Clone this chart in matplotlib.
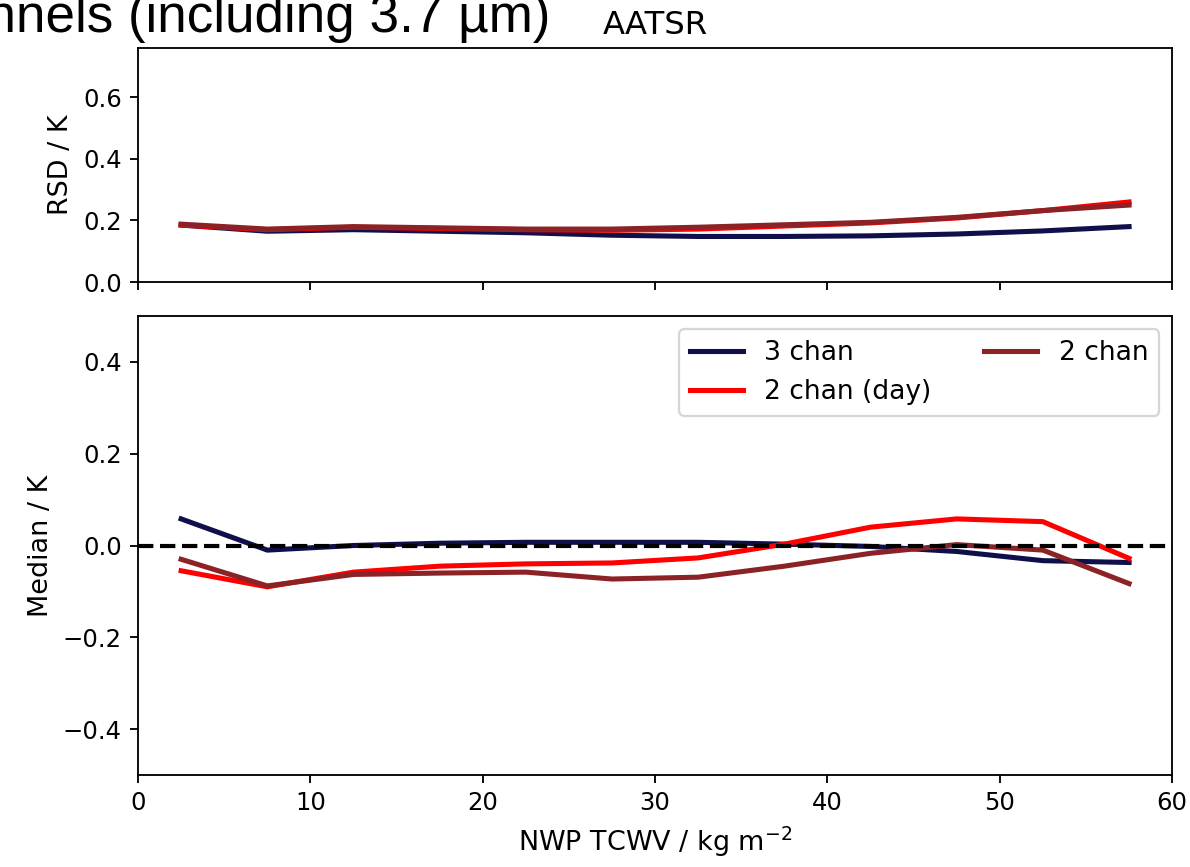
"""AATSR retrieval statistics vs NWP total column water vapour."""

import matplotlib

matplotlib.use("Agg")
import matplotlib.pyplot as plt

# bin centres of NWP TCWV (kg m-2)
tcwv = [2.5, 7.5, 12.5, 17.5, 22.5, 27.5, 32.5, 37.5, 42.5, 47.5, 52.5, 57.5]

# robust standard deviation (K)
rsd_3chan = [0.185, 0.165, 0.170, 0.165, 0.160, 0.152, 0.148, 0.148, 0.150, 0.156, 0.166, 0.180]
rsd_2chan_day = [0.185, 0.170, 0.178, 0.174, 0.170, 0.168, 0.172, 0.182, 0.192, 0.208, 0.232, 0.260]
rsd_2chan = [0.188, 0.172, 0.180, 0.176, 0.172, 0.172, 0.178, 0.186, 0.194, 0.210, 0.232, 0.250]

# median difference (K)
med_3chan = [0.058, -0.010, 0.000, 0.005, 0.007, 0.007, 0.007, 0.003, -0.002, -0.013, -0.033, -0.037]
med_2chan_day = [-0.055, -0.090, -0.058, -0.045, -0.040, -0.038, -0.027, 0.003, 0.040, 0.058, 0.052, -0.028]
med_2chan = [-0.030, -0.088, -0.063, -0.060, -0.058, -0.073, -0.069, -0.045, -0.017, 0.002, -0.010, -0.083]

labels = ["3 chan", "2 chan (day)", "2 chan"]
colors = ["#0f0f4b", "#ff0000", "#8b2226"]


def plot() -> None:
    dpi = 166
    plt.rcParams["xtick.labelsize"] = 10.5
    plt.rcParams["ytick.labelsize"] = 10.5
    plt.rcParams["axes.labelsize"] = 11.7

    fig = plt.figure(figsize=(1190 / dpi, 867 / dpi), dpi=dpi)
    ax1 = fig.add_axes([0.116, 0.6747, 0.869, 0.2699])
    ax2 = fig.add_axes([0.116, 0.1061, 0.869, 0.5294], sharex=ax1)

    for y, label, colour in zip([rsd_3chan, rsd_2chan_day, rsd_2chan], labels, colors):
        ax1.plot(tcwv, y, color=colour, lw=2.2, label=label)
    for y, label, colour in zip([med_3chan, med_2chan_day, med_2chan], labels, colors):
        ax2.plot(tcwv, y, color=colour, lw=2.2, label=label)
    ax2.axhline(0.0, color="black", ls="--", lw=1.8)

    ax1.set_ylim(0, 0.76)
    ax1.set_yticks([0.0, 0.2, 0.4, 0.6])
    ax1.set_ylabel("RSD / K")
    ax1.set_title("AATSR", fontsize=14)
    ax1.tick_params(labelbottom=False)

    ax2.set_xlim(0, 60)
    ax2.set_ylim(-0.5, 0.5)
    ax2.set_yticks([-0.4, -0.2, 0.0, 0.2, 0.4])
    ax2.set_ylabel("Median / K")
    ax2.set_xlabel("NWP TCWV / kg m$^{-2}$")
    ax2.legend(loc="upper right", ncol=2, fontsize=11.5)

    # leftover of the slide heading, cut by the left edge as in the source
    fig.text(550 / 1190, 1 - 32 / 867, "channels (including 3.7 µm)",
             ha="right", va="baseline", fontsize=23, family="Liberation Sans")

    fig.savefig("out.png", dpi=dpi)
    plt.close(fig)


if __name__ == "__main__":
    plot()
